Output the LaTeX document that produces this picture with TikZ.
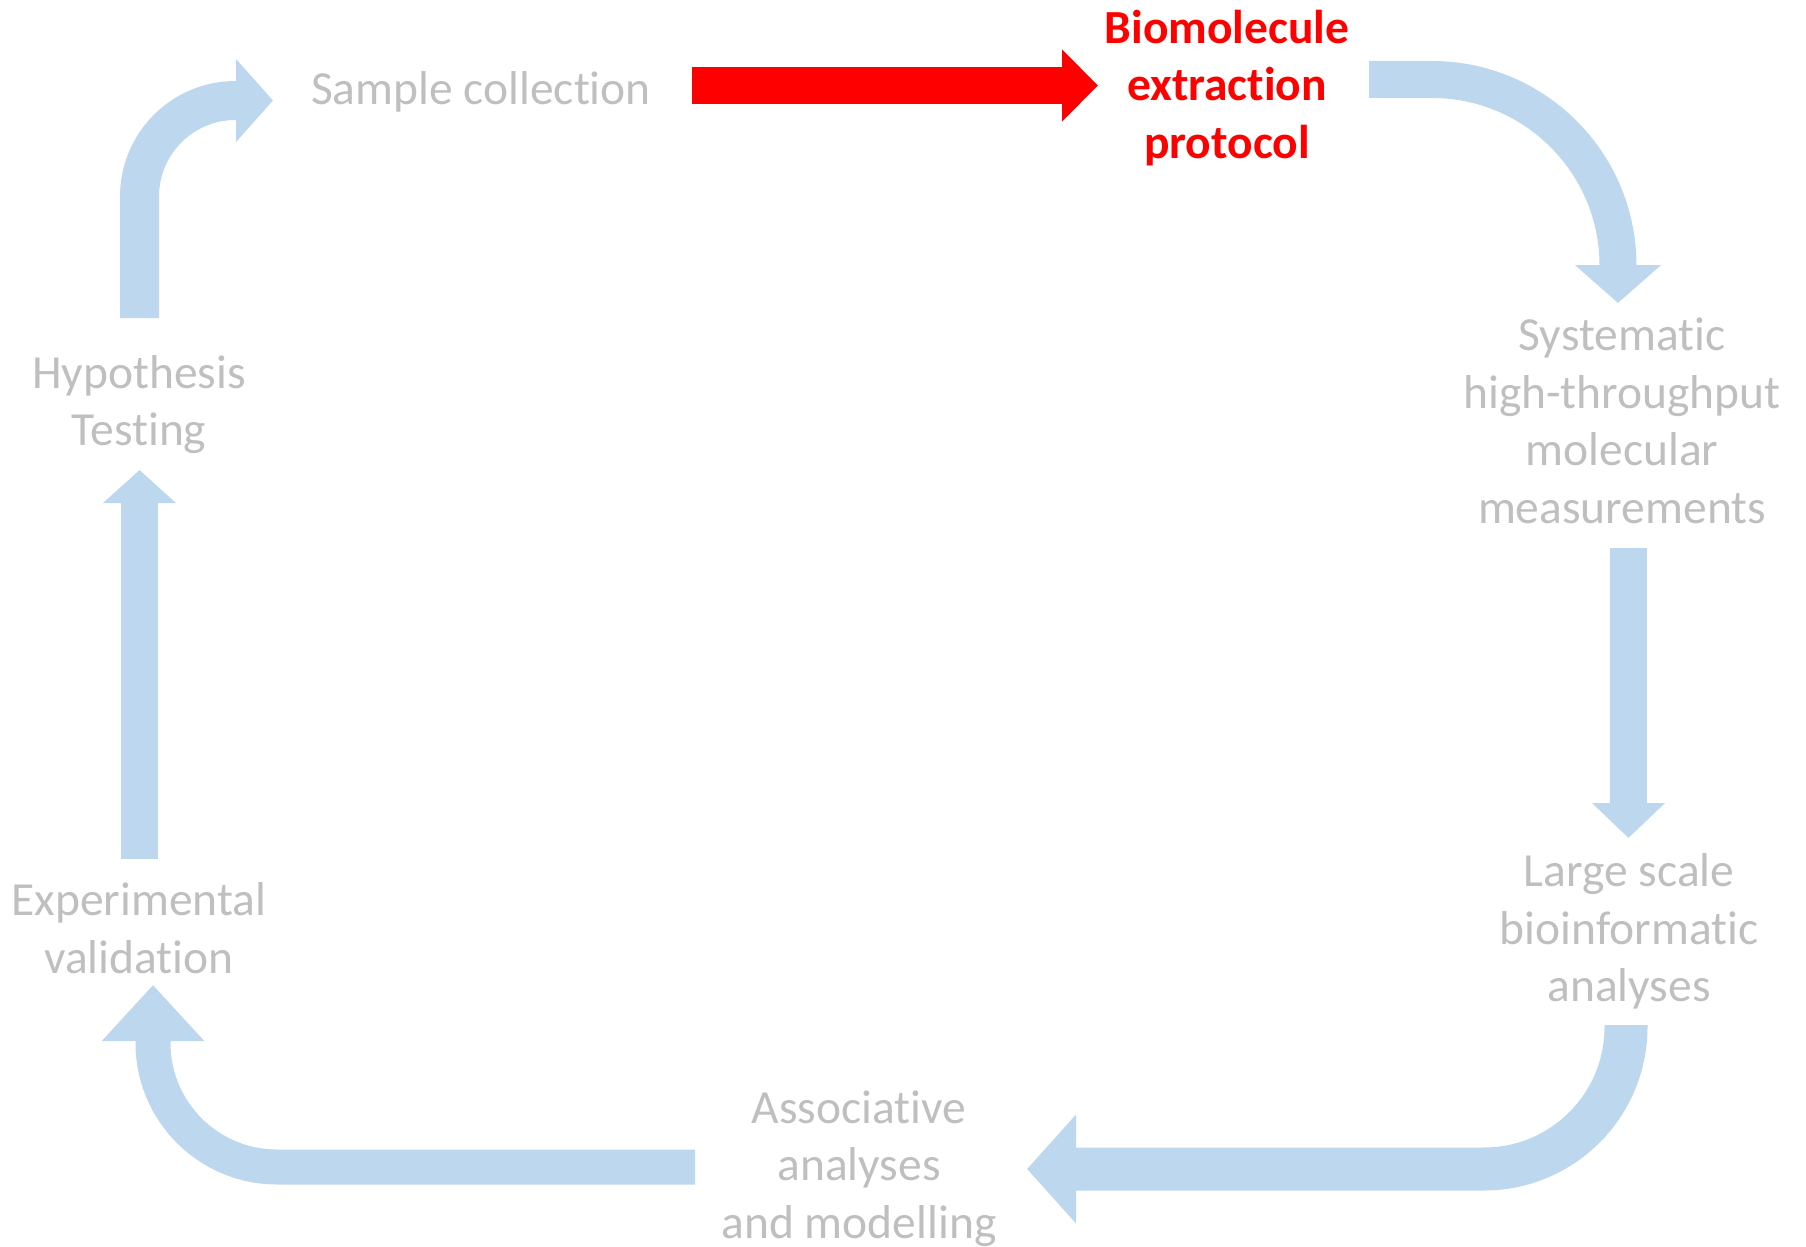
\documentclass[tikz,border=0pt]{standalone}
\usepackage{fontspec}
\setmainfont[RawFeature={-liga;-clig;-calt;-dlig}]{Carlito}
\usepackage{xcolor}
\usetikzlibrary{arrows.meta}
\definecolor{flowblue}{HTML}{BDD7EE}
\definecolor{stepgray}{HTML}{BFBFBF}
\definecolor{hotred}{HTML}{FF0000}

\begin{document}
\begin{tikzpicture}[x=0.5pt, y=-0.5pt,
    lbl/.style={align=center, inner sep=0pt, text=stepgray, font={\fontsize{23.75}{28.8}\selectfont}},
    flow/.style={draw=flowblue, line width=#1},
    ]
    \useasboundingbox (0,0) rectangle (1806,1247);

    % steps of the cycle
    \node [lbl] (smp) at (481,91.5) {Sample collection};
    \node [lbl, text=hotred, font={\fontsize{23.75}{28.8}\selectfont\bfseries}] (bio) at (1227,88) {Biomolecule\\extraction\\protocol};
    \node [lbl] (sys) at (1622,421) {Systematic\\high-throughput\\molecular\\measurements};
    \node [lbl] (lsb) at (1629,931.5) {Large scale\\bioinformatic\\analyses};
    \node [lbl] (asc) at (859,1168.5) {Associative\\analyses\\and modelling};
    \node [lbl] (exv) at (139,928) {Experimental\\validation};
    \node [lbl] (hyp) at (139,404.5) {Hypothesis\\Testing};

    % arrow ends
    \coordinate (hyp-out) at (139.5,318);
    \coordinate (smp-in) at (273,100.5);
    \coordinate (smp-out) at (692,85.5);
    \coordinate (bio-in) at (1098,85.5);
    \coordinate (bio-out) at (1369,79.5);
    \coordinate (sys-in) at (1618,303);
    \coordinate (sys-out) at (1628.5,548);
    \coordinate (lsb-in) at (1628.5,838);
    \coordinate (lsb-out) at (1626,1025);
    \coordinate (asc-in) at (1027,1169);
    \coordinate (asc-out) at (695,1167);
    \coordinate (exv-in) at (153,985);
    \coordinate (exv-out) at (139.5,859);
    \coordinate (hyp-in) at (139.5,470);

    \draw [flow=19.5pt, rounded corners=48pt, -{Triangle[width=40.5pt, length=18.5pt]}] (hyp-out) |- (smp-in);
    \draw [draw=hotred, line width=18.5pt, -{Triangle[width=35pt, length=18pt]}] (smp-out) -- (bio-in);
    \draw [flow=18.5pt, rounded corners=93pt, -{Triangle[width=42pt, length=19pt]}] (bio-out) -| (sys-in);
    \draw [flow=18.5pt, -{Triangle[width=35.5pt, length=17.5pt]}] (sys-out) -- (lsb-in);
    \draw [flow=21.5pt, rounded corners=71pt, -{Triangle[width=53pt, length=24.5pt]}] (lsb-out) |- (asc-in);
    \draw [flow=17.5pt, rounded corners=62pt, -{Triangle[width=49.5pt, length=28pt]}] (asc-out) -| (exv-in);
    \draw [flow=18.5pt, -{Triangle[width=35.5pt, length=16.5pt]}] (exv-out) -- (hyp-in);
\end{tikzpicture}
\end{document}
